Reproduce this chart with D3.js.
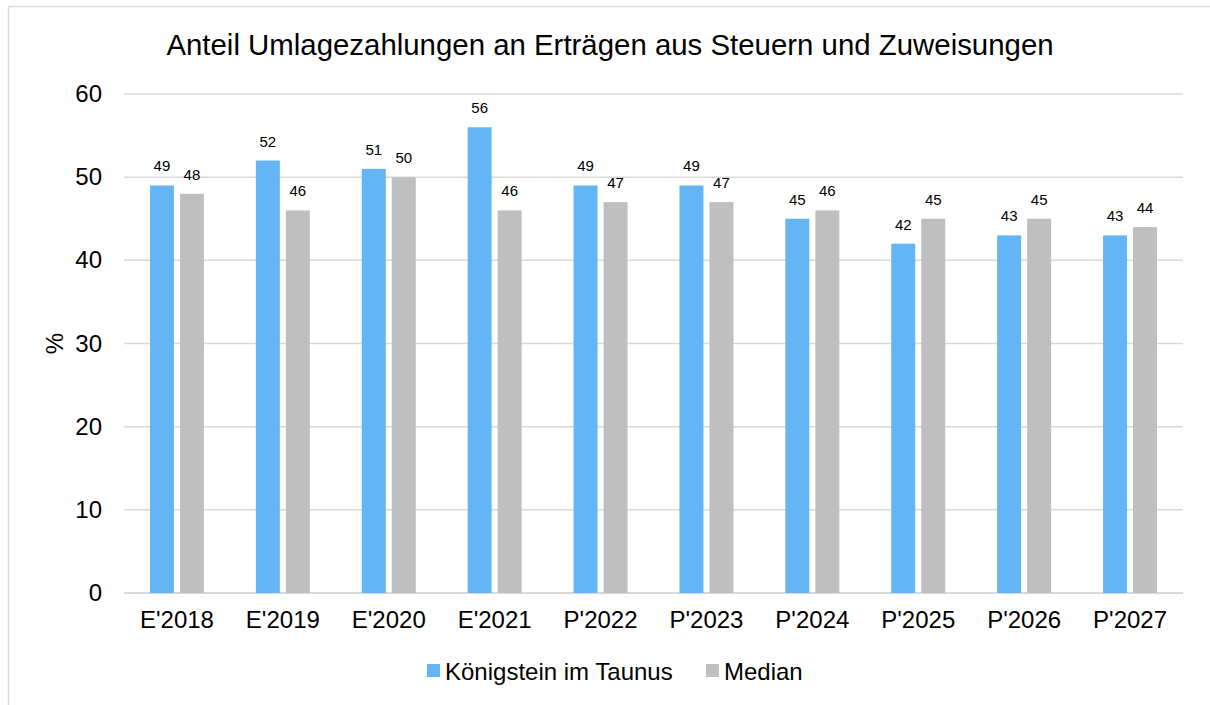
<!DOCTYPE html>
<html>
 <head>
  <meta charset="utf-8">
  <title>Anteil Umlagezahlungen</title>
  <script src="https://cdnjs.cloudflare.com/ajax/libs/d3/7.8.5/d3.min.js"></script>
  <style>
    body { margin: 0; background: #fff; }
    text { font-family: "Liberation Sans", Arial, sans-serif; fill: #000; }
  </style>
 </head>
 <body>
  <script>
    // data
    var categories = ["E'2018", "E'2019", "E'2020", "E'2021", "P'2022",
                      "P'2023", "P'2024", "P'2025", "P'2026", "P'2027"];
    var koenigstein = [49, 52, 51, 56, 49, 49, 45, 42, 43, 43];
    var median      = [48, 46, 50, 46, 47, 47, 46, 45, 45, 44];
    var yTicks = [0, 10, 20, 30, 40, 50, 60];
    var seriesNames = ["Königstein im Taunus", "Median"];
    var colors = ["#64b5f6", "#bfbfbf"];

    var W = 1210, H = 705;
    var plotLeft = 124, plotRight = 1183, plotTop = 94, plotBottom = 593;

    var svg = d3.select("body").append("svg")
                .attr("width", W).attr("height", H);

    // outer frame (top + left only visible)
    svg.append("line").attr("x1", 8.5).attr("x2", W).attr("y1", 6.5).attr("y2", 6.5)
       .attr("stroke", "#d9d9d9").attr("stroke-width", 1.5);
    svg.append("line").attr("x1", 8.5).attr("x2", 8.5).attr("y1", 6.5).attr("y2", H)
       .attr("stroke", "#d9d9d9").attr("stroke-width", 1.5);

    var x = d3.scaleBand().domain(categories).range([plotLeft, plotRight]);
    var y = d3.scaleLinear().domain([0, 60]).range([plotBottom, plotTop]);

    // gridlines
    svg.append("g").selectAll("line").data(yTicks).join("line")
       .attr("x1", plotLeft).attr("x2", plotRight)
       .attr("y1", function(d) { return y(d); })
       .attr("y2", function(d) { return y(d); })
       .attr("stroke", "#d9d9d9")
       .attr("stroke-width", function(d) { return d === 0 ? 2 : 1.5; });

    // y tick labels
    svg.append("g").selectAll("text").data(yTicks).join("text")
       .attr("x", 102).attr("y", function(d) { return y(d) + 8; })
       .attr("text-anchor", "end").attr("font-size", 24)
       .text(function(d) { return d; });

    // y axis title
    svg.append("text")
       .attr("transform", "translate(63," + ((plotTop + plotBottom) / 2) + ") rotate(-90)")
       .attr("text-anchor", "middle").attr("font-size", 24)
       .text("%");

    // x labels
    svg.append("g").selectAll("text").data(categories).join("text")
       .attr("x", function(d) { return x(d) + x.bandwidth() / 2; })
       .attr("y", 628).attr("text-anchor", "middle").attr("font-size", 24)
       .text(function(d) { return d; });

    var barW = 24, offsets = [-15, 15];
    [koenigstein, median].forEach(function(vals, s) {
      var g = svg.append("g");
      g.selectAll("rect").data(vals).join("rect")
       .attr("x", function(d, i) { return x(categories[i]) + x.bandwidth() / 2 + offsets[s] - barW / 2; })
       .attr("y", function(d) { return y(d); })
       .attr("width", barW)
       .attr("height", function(d) { return plotBottom - y(d); })
       .attr("fill", colors[s]);
      g.selectAll("text").data(vals).join("text")
       .attr("x", function(d, i) { return x(categories[i]) + x.bandwidth() / 2 + offsets[s]; })
       .attr("y", function(d) { return y(d) - 14; })
       .attr("text-anchor", "middle").attr("font-size", 15)
       .text(function(d) { return d; });
    });

    // title
    svg.append("text").attr("x", 610).attr("y", 55)
       .attr("text-anchor", "middle").attr("font-size", 29.4)
       .text("Anteil Umlagezahlungen an Erträgen aus Steuern und Zuweisungen");

    // legend
    var legendX = [427, 706];
    seriesNames.forEach(function(name, s) {
      svg.append("rect").attr("x", legendX[s]).attr("y", 664)
         .attr("width", 13).attr("height", 13).attr("fill", colors[s]);
      svg.append("text").attr("x", legendX[s] + 18).attr("y", 680)
         .attr("font-size", 24).text(name);
    });
  </script>
 </body>
</html>
